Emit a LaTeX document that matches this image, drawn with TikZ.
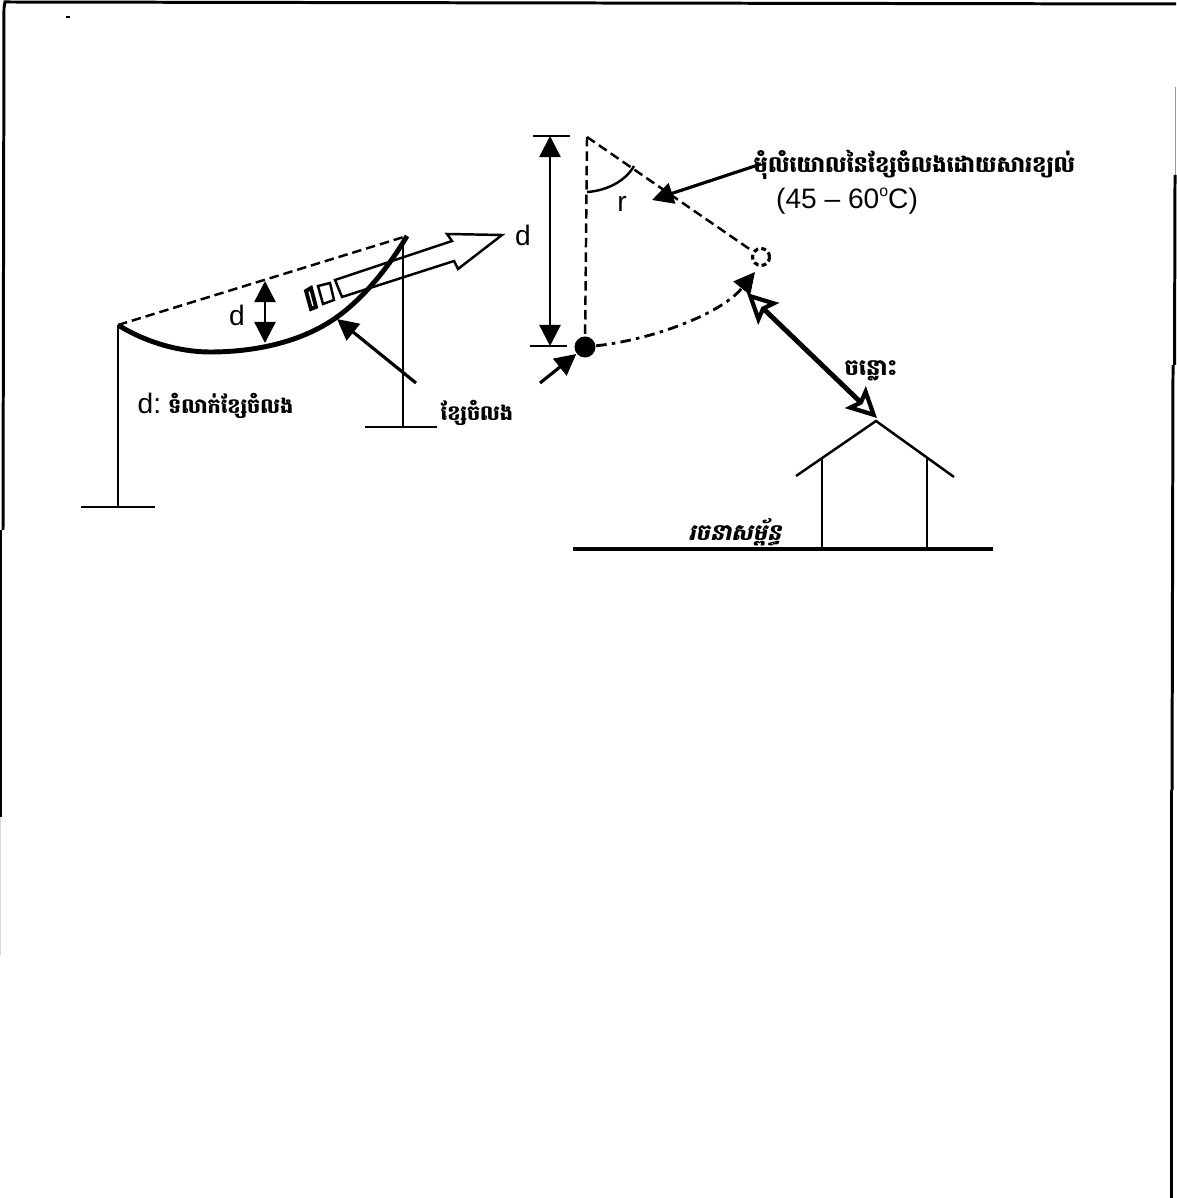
\documentclass[tikz,border=0pt]{standalone}
\usepackage{fontspec}
\setmainfont{Liberation Sans}
\newfontfamily\khmerfont[Script=Khmer]{Battambang}
\newfontfamily\khmerslant[Script=Khmer,FakeSlant=0.2]{Battambang}
\usetikzlibrary{arrows.meta}

\tikzset{
  dimline/.style={line width=0.7pt,{Triangle[length=6pt,width=6pt]}-{Triangle[length=6pt,width=6pt]}},
  pointer/.style={line width=0.9pt,-{Triangle[length=6pt,width=6pt]}},
  post/.style={line width=0.7pt},
  dashline/.style={line width=0.7pt,dash pattern=on 2.7pt off 1.4pt},
  gaparrow/.style={line width=1.4pt,{Stealth[open,length=8.5pt,width=8.5pt,inset=1.5pt,line width=1.2pt]}-{Stealth[open,length=8.5pt,width=8.5pt,inset=1.5pt,line width=1.2pt]}},
  lab/.style={inner sep=0pt,font=\fontsize{8}{10}\selectfont},
  kh/.style={inner sep=0pt,font=\fontsize{6.4}{8}\selectfont\khmerfont\bfseries},
  khsmall/.style={inner sep=0pt,font=\fontsize{5.9}{8}\selectfont\khmerfont\bfseries},
}

\begin{document}
\begin{tikzpicture}[x=0.01cm,y=-0.01cm]
  \useasboundingbox (0,0) rectangle (1176,1198);
  % page edges
  \draw[line width=0.85pt] (3,530) -- (4,8) -- (5,2) -- (1176,4);
  \draw[line width=0.7pt] (1,530) -- (1,817);
  \draw[line width=0.3pt,black!15] (0,817) -- (0,955);
  \draw[line width=0.3pt,black!40] (1175,87) -- (1175,175);
  \draw[line width=0.85pt] (1175,175) -- (1174.5,365);
  \draw[line width=0.85pt] (1173,365) -- (1172,790);
  \draw[line width=0.85pt] (1171,790) -- (1171,1198);
  \draw[line width=0.4pt] (66,17) -- (70,17);

  % left: sagging wire
  \coordinate (poleA) at (118,325);
  \coordinate (baseA) at (118,507);
  \coordinate (wireEnd) at (407,236);
  \coordinate (poleB) at (403,240);
  \coordinate (baseB) at (403,427);
  \coordinate (sagTop) at (265,281);
  \coordinate (sagBot) at (265,343);
  \draw[post] (poleA) -- (baseA);
  \draw[post] (81,507) -- (155,507);
  \draw[post] (poleB) -- (baseB);
  \draw[post] (365,427) -- (437,427);
  \draw[dashline] (poleA) -- (wireEnd);
  \draw[line width=1.4pt] (poleA) .. controls (150,345) and (185,352) .. (210,352) .. controls (260,352) and (305,340) .. (337,317) .. controls (365,297) and (390,265) .. (wireEnd);
  \draw[dimline] (sagTop) -- (sagBot);
  \node[lab] (dSag) at (237,315) {d};
  \node[lab] (dRight) at (523,235) {d};

  % wind arrow with its two tail bars
  \draw[post] (335,280) -- (452,241) -- (447,234) -- (502,235) -- (458,269) -- (454,261) -- (342,297) -- cycle;
  \draw[post] (318,286) -- (330,283) -- (334,300) -- (323,304) -- cycle;
  \draw[line width=1.1pt] (306,291) -- (311,288) -- (316,307) -- (311,309) -- cycle;

  \coordinate (wireFrom) at (416,383);
  \coordinate (wireTo) at (337,319);
  \draw[pointer] (wireFrom) -- (wireTo);
  \node[lab,anchor=west] (sagNote) at (137,406) {d:\hspace{2pt}{\fontsize{5.9}{8}\selectfont\khmerfont\bfseries ទំលាក់ខ្សែចំលង}};
  \node[khsmall,anchor=west] (wireNote) at (440,413) {ខ្សែចំលង};

  % right: swing of the wire
  \coordinate (apex) at (587,137);
  \node[circle,fill=black,inner sep=0pt,minimum size=0.21cm] (rest) at (585,347) {};
  \node[circle,draw,dash pattern=on 1.4pt off 0.9pt,line width=0.9pt,inner sep=0pt,minimum size=0.17cm] (swing) at (761,257) {};
  \draw[post] (533,136) -- (570,136);
  \draw[post] (530,346) -- (567,346);
  \coordinate (dimTop) at (550,136);
  \coordinate (dimBot) at (550,346);
  \draw[dimline] (dimTop) -- (dimBot);
  \draw[dashline] (apex) -- (rest);
  \draw[dashline] (apex) -- (swing);
  \draw[post] (587,192) .. controls (605,191) and (625,182) .. (634,166);
  \node[lab] (angleName) at (622,204) {r};

  \coordinate (noteFrom) at (761,164);
  \coordinate (noteTo) at (652,200);
  \draw[pointer] (noteFrom) -- (noteTo);
  \node[kh,anchor=west] (angleNote) at (753,165) {មុំលំយោលនៃខ្សែចំលងដោយសារខ្យល់};
  \node[lab] (angleRange) at (847,201) {(45 -- 60\raisebox{0.42em}{\fontsize{4.5}{5}\selectfont o}C)};

  \draw[line width=0.8pt,dash pattern=on 3pt off 1.5pt on 1pt off 1.5pt,-{Triangle[length=6pt,width=6pt]}] (rest) .. controls (650,340) and (720,315) .. (755,272);
  \coordinate (pushFrom) at (540,383);
  \draw[pointer] (pushFrom) -- (rest);

  % clearance to the house
  \coordinate (gapTop) at (747,293);
  \coordinate (roofTop) at (877,418);
  \draw[gaparrow] (gapTop) -- (roofTop);
  \node[kh] (gapNote) at (871,371) {ចន្លោះ};

  % house on the ground
  \coordinate (roofPeak) at (876,421);
  \draw[post] (796,476) -- (roofPeak) -- (954,477);
  \draw[post] (822,457) -- (822,549);
  \draw[post] (927,458) -- (927,549);
  \draw[line width=0.9pt] (573,549) -- (993,549);
  \node[inner sep=0pt,font=\fontsize{6.4}{8}\selectfont\khmerslant\bfseries] (houseNote) at (735,532) {រចនាសម្ព័ន្ធ};
\end{tikzpicture}
\end{document}
